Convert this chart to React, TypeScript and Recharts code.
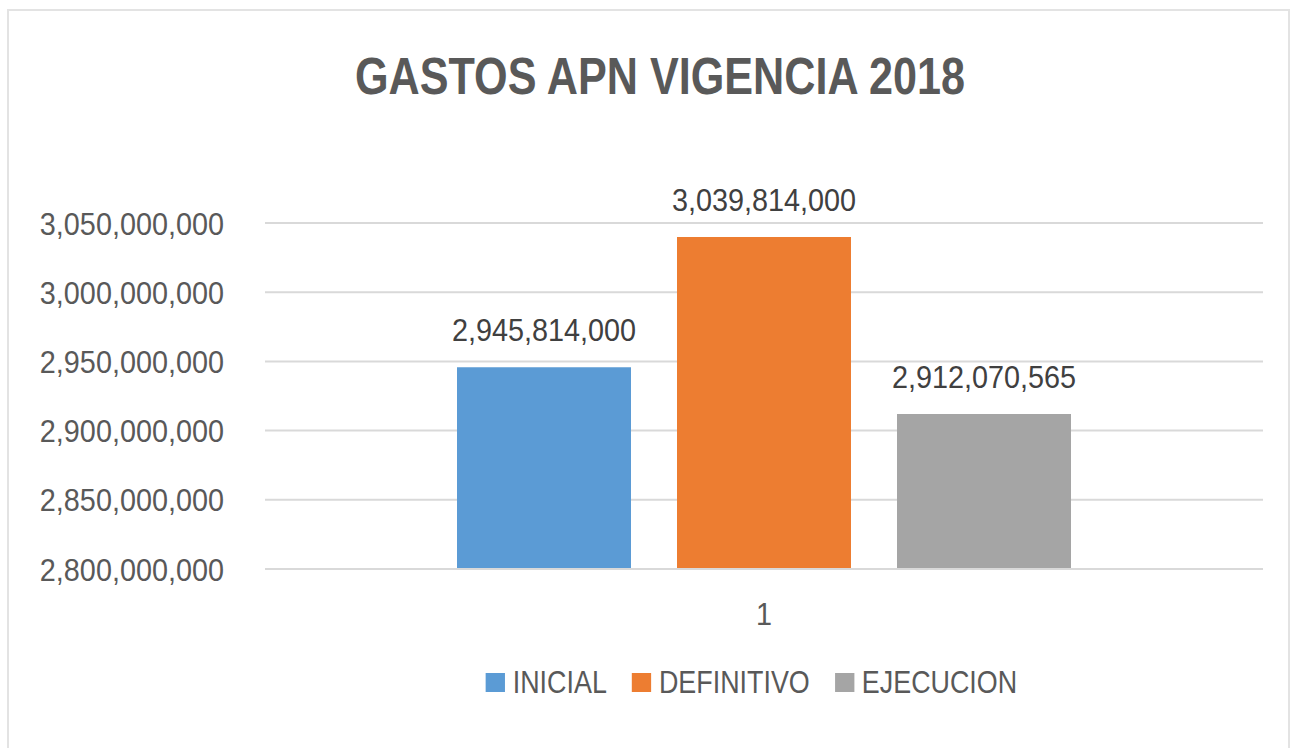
import {
  BarChart,
  Bar,
  XAxis,
  YAxis,
  CartesianGrid,
  Legend,
  LabelList,
} from 'recharts'

const categories = ['1']
const seriesNames = ['INICIAL', 'DEFINITIVO', 'EJECUCION']
const seriesValues = [2945814000, 3039814000, 2912070565]
const yTicks = [2800000000, 2850000000, 2900000000, 2950000000, 3000000000, 3050000000]

const COLORS = ['#5b9bd5', '#ed7d31', '#a5a5a5']
const FONT = '"Liberation Sans", Arial, sans-serif'
// the source font is narrower than Liberation Sans, so text is squeezed a bit
const SQUEEZE = 0.9

const data = categories.map((name) => {
  const row: Record<string, string | number> = { name }
  seriesNames.forEach((s, i) => {
    row[s] = seriesValues[i]
  })
  return row
})

const fmt = (v: number) => Number(v).toLocaleString('en-US')

function YTick({ x, y, payload }: any) {
  return (
    <text
      transform={`translate(${x},${y}) scale(${SQUEEZE},1)`}
      textAnchor="end"
      dominantBaseline="central"
      fill="#595959"
      fontSize={32}
      fontFamily={FONT}
    >
      {fmt(payload.value)}
    </text>
  )
}

function XTick({ x, y, payload }: any) {
  return (
    <text
      transform={`translate(${x},${y}) scale(${SQUEEZE},1)`}
      textAnchor="middle"
      dy="0.71em"
      fill="#595959"
      fontSize={32}
      fontFamily={FONT}
    >
      {payload.value}
    </text>
  )
}

function ValueLabel({ x, y, width, value }: any) {
  return (
    <text
      transform={`translate(${x + width / 2},${y - 26}) scale(${SQUEEZE},1)`}
      textAnchor="middle"
      fill="#404040"
      fontSize={32}
      fontFamily={FONT}
    >
      {fmt(value)}
    </text>
  )
}

function LegendContent({ payload }: any) {
  const items = [...(payload || [])].sort(
    (a: any, b: any) => seriesNames.indexOf(a.value) - seriesNames.indexOf(b.value)
  )
  return (
    <div
      style={{
        display: 'flex',
        justifyContent: 'center',
        alignItems: 'center',
        fontFamily: FONT,
        fontSize: 32,
        color: '#595959',
        transform: 'scaleX(0.84)',
        transformOrigin: '50% 50%',
      }}
    >
      {items.map((item: any, i: number) => (
        <div
          key={`legend-${i}`}
          style={{ display: 'flex', alignItems: 'center', marginRight: i < 2 ? 30 : 0 }}
        >
          <span
            style={{
              display: 'inline-block',
              width: 23,
              height: 19,
              background: item.color,
              marginRight: 9,
            }}
          />
          <span>{item.value}</span>
        </div>
      ))}
    </div>
  )
}

function App() {
  return (
    <div
      style={{
        position: 'absolute',
        left: 0,
        top: 0,
        width: 1295,
        height: 748,
        background: '#ffffff',
        overflow: 'hidden',
      }}
    >
      <div
        style={{
          position: 'absolute',
          left: 7,
          top: 9,
          width: 1283,
          height: 760,
          border: '2px solid #e3e3e3',
          boxSizing: 'border-box',
        }}
      />
      <div
        style={{
          position: 'absolute',
          left: 0,
          width: 1320,
          top: 46,
          textAlign: 'center',
          fontFamily: FONT,
          fontWeight: 'bold',
          fontSize: 52,
          lineHeight: '60px',
          color: '#595959',
          transform: 'scaleX(0.83)',
          transformOrigin: '660px 50%',
        }}
      >
        GASTOS APN VIGENCIA 2018
      </div>
      <div style={{ position: 'absolute', left: 0, top: 0 }}>
        <BarChart
          width={1295}
          height={748}
          data={data}
          margin={{ top: 223, right: 32, bottom: 0, left: 0 }}
          barGap={46}
          barSize={174}
        >
          <CartesianGrid vertical={false} stroke="#d9d9d9" strokeWidth={2} />
          <XAxis
            dataKey="name"
            height={179}
            axisLine={{ stroke: '#d9d9d9', strokeWidth: 2 }}
            tickLine={false}
            tickMargin={27}
            tick={<XTick />}
          />
          <YAxis
            width={265}
            domain={[2800000000, 3050000000]}
            ticks={yTicks}
            interval={0}
            allowDataOverflow
            axisLine={false}
            tickLine={false}
            tickMargin={35}
            tick={<YTick />}
          />
          <Legend
            layout="horizontal"
            verticalAlign="middle"
            align="center"
            content={<LegendContent />}
            wrapperStyle={{ top: 664, left: 104, width: 1295 }}
          />
          {seriesNames.map((s, i) => (
            <Bar key={s} dataKey={s} fill={COLORS[i]} isAnimationActive={false}>
              <LabelList dataKey={s} content={<ValueLabel />} />
            </Bar>
          ))}
        </BarChart>
      </div>
    </div>
  )
}

export default App
